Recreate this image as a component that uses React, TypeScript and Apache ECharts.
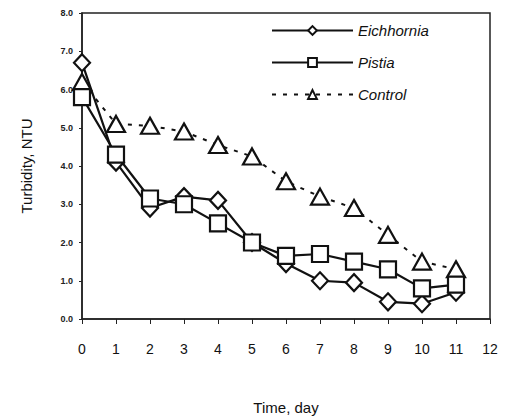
import React, { useEffect, useRef } from "react";
import * as echarts from "echarts";

const days = [0, 1, 2, 3, 4, 5, 6, 7, 8, 9, 10, 11];
const eichhornia = [6.7, 4.1, 2.9, 3.2, 3.1, 2.0, 1.45, 1.0, 0.95, 0.45, 0.4, 0.7];
const pistia = [5.8, 4.3, 3.15, 3.0, 2.5, 2.0, 1.65, 1.7, 1.5, 1.3, 0.8, 0.9];
const control = [6.2, 5.1, 5.05, 4.9, 4.55, 4.25, 3.6, 3.2, 2.9, 2.2, 1.5, 1.3];

const FONT = "Liberation Sans, Arial, sans-serif";

export default function App() {
  const ref = useRef<HTMLDivElement>(null);
  useEffect(() => {
    if (!ref.current) return;
    const chart = echarts.init(ref.current, undefined, { renderer: "svg" });
    const pts = (arr: number[]) => days.map((d, i) => [d, arr[i]]);
    const base = {
      type: "line",
      symbolKeepAspect: true,
      itemStyle: { color: "#fff", borderColor: "#111", borderWidth: 2.2 },
      z: 3,
    };
    chart.setOption({
      animation: false,
      backgroundColor: "#fff",
      textStyle: { fontFamily: FONT, color: "#111" },
      grid: {
        left: 82,
        top: 13,
        right: 17,
        bottom: 95,
        show: true,
        borderColor: "#222",
        borderWidth: 1.5,
      },
      legend: {
        left: 266,
        top: 18,
        orient: "vertical",
        itemWidth: 81,
        itemHeight: 11,
        itemGap: 17,
        textStyle: { fontStyle: "italic", fontSize: 15, fontFamily: FONT, color: "#111" },
        data: ["Eichhornia", "Pistia", "Control"],
      },
      xAxis: {
        type: "value",
        min: 0,
        max: 12,
        interval: 1,
        name: "Time, day",
        nameLocation: "middle",
        nameGap: 81,
        nameTextStyle: { fontSize: 15, fontFamily: FONT, color: "#111" },
        axisLine: { show: true, lineStyle: { color: "#222", width: 1.5 } },
        axisTick: { show: true, length: 5, lineStyle: { color: "#222" } },
        axisLabel: { fontSize: 14, margin: 23, color: "#111", fontFamily: FONT },
        splitLine: { show: false },
      },
      yAxis: {
        type: "value",
        min: 0,
        max: 8,
        interval: 1,
        name: "Turbidity, NTU",
        nameLocation: "middle",
        nameGap: 48,
        nameTextStyle: { fontSize: 15, fontFamily: FONT, color: "#111" },
        axisLine: { show: true, lineStyle: { color: "#222", width: 1.5 } },
        axisTick: { show: true, length: 3, lineStyle: { color: "#222" } },
        axisLabel: {
          fontSize: 9,
          fontWeight: "bold",
          margin: 9,
          color: "#222",
          fontFamily: FONT,
          formatter: (v: number) => v.toFixed(1),
        },
        splitLine: { show: false },
      },
      series: [
        {
          ...base,
          name: "Control",
          data: pts(control),
          symbol: "triangle",
          symbolSize: [18, 16],
          lineStyle: { color: "#111", width: 2, type: [4, 7] },
          z: 2,
        },
        {
          ...base,
          name: "Eichhornia",
          data: pts(eichhornia),
          symbol: "diamond",
          symbolSize: [16, 17],
          lineStyle: { color: "#111", width: 2.2 },
        },
        {
          ...base,
          name: "Pistia",
          data: pts(pistia),
          symbol: "rect",
          symbolSize: [16, 16],
          lineStyle: { color: "#111", width: 2.2 },
          z: 4,
        },
      ],
    });
    return () => chart.dispose();
  }, []);
  return (
    <div
      ref={ref}
      style={{ position: "fixed", left: 0, top: 0, width: 507, height: 420 }}
    />
  );
}
